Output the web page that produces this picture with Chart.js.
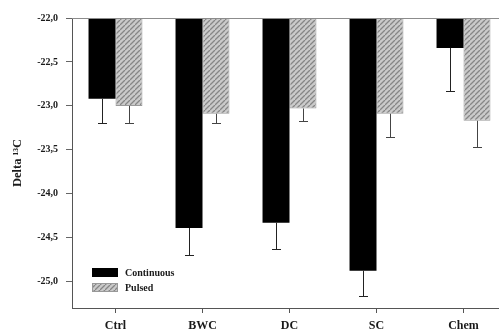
<!DOCTYPE html>
<html>
<head>
<meta charset="utf-8">
<script src="https://cdn.jsdelivr.net/npm/chart.js@4"></script>
<style>
html,body{margin:0;padding:0;background:#fff;overflow:hidden;}
#wrap{width:508px;height:331px;}
</style>
</head>
<body>
<div id="wrap"><canvas id="c" width="508" height="331"></canvas></div>
<script>
const categories = ['Ctrl', 'BWC', 'DC', 'SC', 'Chem'];
const continuousValues = [-22.92, -24.39, -24.33, -24.875, -22.34];
const continuousErrors = [0.28, 0.31, 0.30, 0.29, 0.49];
const pulsedValues = [-23.00, -23.09, -23.03, -23.09, -23.17];
const pulsedErrors = [0.19, 0.10, 0.14, 0.26, 0.30];
const yTickValues = [-22.0, -22.5, -23.0, -23.5, -24.0, -24.5, -25.0];
const yTickLabels = ['-22,0', '-22,5', '-23,0', '-23,5', '-24,0', '-24,5', '-25,0'];
const seriesNames = ['Continuous', 'Pulsed'];

function makeHatch() {
  const s = 5;
  const p = document.createElement('canvas');
  p.width = s; p.height = s;
  const g = p.getContext('2d');
  g.fillStyle = '#cacaca';
  g.fillRect(0, 0, s, s);
  g.strokeStyle = '#868686';
  g.lineWidth = 1.3;
  g.beginPath();
  g.moveTo(0, s); g.lineTo(s, 0);
  g.moveTo(-s, s); g.lineTo(0, 0);
  g.moveTo(s, 2 * s); g.lineTo(2 * s, s);
  g.stroke();
  return document.getElementById('c').getContext('2d').createPattern(p, 'repeat');
}
const hatch = makeHatch();
const serif = "'Liberation Serif', 'DejaVu Serif', serif";

const errorBars = {
  id: 'errorBars',
  afterDatasetsDraw(chart) {
    const ctx = chart.ctx;
    const y = chart.scales.y;
    const errs = [continuousErrors, pulsedErrors];
    const cols = ['#222', '#444'];
    chart.data.datasets.forEach((ds, di) => {
      const meta = chart.getDatasetMeta(di);
      meta.data.forEach((bar, i) => {
        const v = ds.data[i];
        const y0 = y.getPixelForValue(v);
        const y1 = y.getPixelForValue(v - errs[di][i]);
        ctx.save();
        ctx.strokeStyle = cols[di];
        ctx.lineWidth = 1;
        ctx.beginPath();
        ctx.moveTo(Math.round(bar.x) + 0.5, y0);
        ctx.lineTo(Math.round(bar.x) + 0.5, Math.round(y1) + 0.5);
        ctx.moveTo(Math.round(bar.x) - 4, Math.round(y1) + 0.5);
        ctx.lineTo(Math.round(bar.x) + 5, Math.round(y1) + 0.5);
        ctx.stroke();
        ctx.restore();
      });
    });
  }
};

const frame = {
  id: 'frame',
  afterDraw(chart) {
    const ctx = chart.ctx;
    const a = chart.chartArea;
    ctx.save();
    ctx.strokeStyle = '#8c8c8c';
    ctx.lineWidth = 1;
    ctx.beginPath();
    ctx.moveTo(a.left, Math.round(a.top) + 0.5);
    ctx.lineTo(a.right, Math.round(a.top) + 0.5);
    ctx.stroke();
    // legend inside plot
    const x0 = a.left + 20, yA = 268;
    chart.data.datasets.forEach((ds, i) => {
      const yy = yA + i * 15;
      ctx.fillStyle = ds.backgroundColor;
      ctx.fillRect(x0, yy, 26, 9);
      if (i === 1) { ctx.strokeStyle = '#999'; ctx.strokeRect(x0 + 0.5, yy + 0.5, 25, 8); }
      ctx.fillStyle = '#1a1a1a';
      ctx.font = 'bold 10px ' + serif;
      ctx.textBaseline = 'middle';
      ctx.textAlign = 'left';
      ctx.fillText(ds.label, x0 + 33, yy + 5);
    });
    ctx.restore();
  }
};

new Chart(document.getElementById('c'), {
  type: 'bar',
  data: {
    labels: categories,
    datasets: [
      { label: seriesNames[0], data: continuousValues, backgroundColor: '#000', borderWidth: 0 },
      { label: seriesNames[1], data: pulsedValues, backgroundColor: hatch, borderColor: '#9a9a9a', borderWidth: 1 }
    ]
  },
  options: {
    responsive: false,
    devicePixelRatio: 1,
    animation: false,
    layout: { padding: { top: 18, right: 1, left: 0, bottom: 0 } },
    datasets: { bar: { categoryPercentage: 0.62, barPercentage: 1.0 } },
    plugins: { legend: { display: false }, tooltip: { enabled: false } },
    scales: {
      x: {
        grid: { display: true, drawOnChartArea: false, offset: false, tickLength: 5, color: '#555', tickColor: '#555' },
        border: { color: '#555', width: 1 },
        ticks: { color: '#1a1a1a', font: { family: serif, size: 12, weight: 'bold' }, padding: 6 },
        afterFit(s) { s.height = 23; }
      },
      y: {
        min: -25.3,
        max: -22.0,
        afterBuildTicks(s) { s.ticks = yTickValues.map(v => ({ value: v })); },
        grid: { display: true, drawOnChartArea: false, tickLength: 6, color: '#555', tickColor: '#666' },
        border: { color: '#555', width: 1 },
        ticks: {
          color: '#1a1a1a',
          font: { family: serif, size: 10, weight: 'bold' },
          padding: 8,
          callback(v) { const i = yTickValues.indexOf(v); return i >= 0 ? yTickLabels[i] : ''; }
        },
        title: {
          display: true,
          text: 'Delta ¹³C',
          color: '#1a1a1a',
          font: { family: serif, size: 12.5, weight: 'bold' },
          padding: { top: 10, bottom: 0 }
        },
        afterFit(s) { s.width = 72; }
      }
    }
  },
  plugins: [errorBars, frame]
});
</script>
</body>
</html>
